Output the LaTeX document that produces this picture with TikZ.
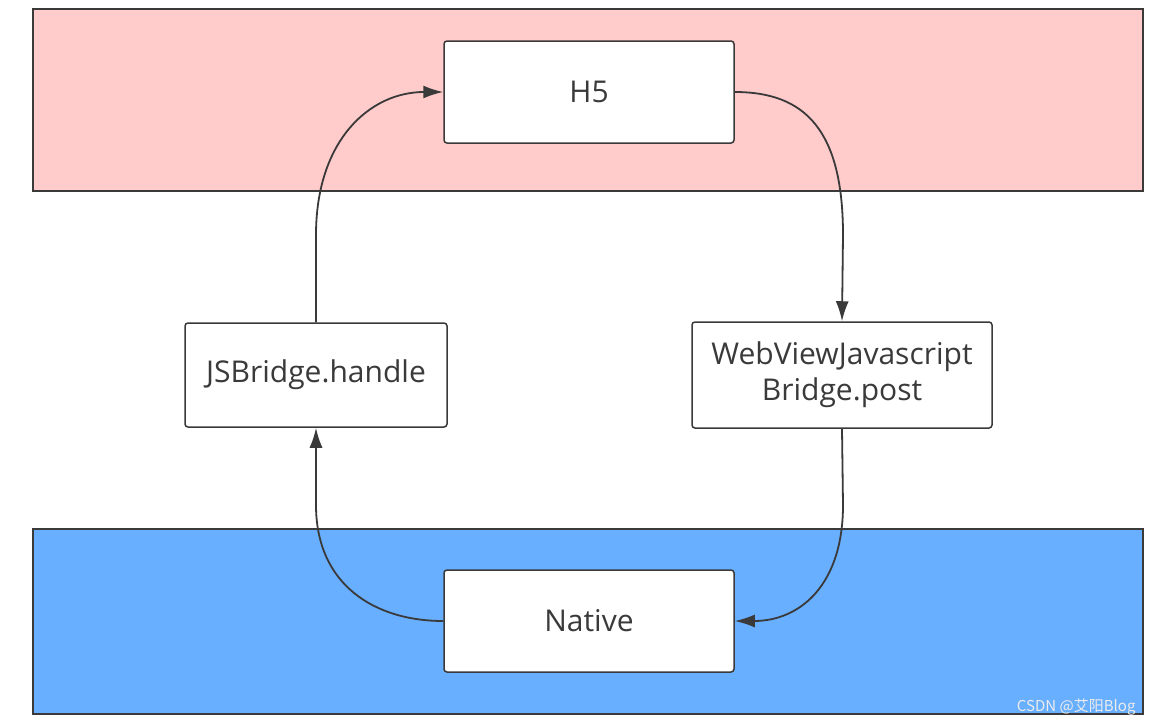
\documentclass[tikz,border=0pt]{standalone}
\usepackage{fontspec}
\setmainfont{Open Sans}
\newfontfamily\cjk{Noto Sans CJK SC}
\usetikzlibrary{arrows.meta}
\definecolor{pinkband}{HTML}{FFCBCB}
\definecolor{blueband}{HTML}{69AFFF}
\definecolor{edge}{HTML}{3A3A3A}
\tikzset{
  band/.style={draw=edge, line width=2pt},
  box/.style={draw=edge, fill=white, line width=1.5pt, rounded corners=3pt, inner sep=0pt, font=\fontsize{30}{36}\selectfont, text=edge, align=center},
  conn/.style={draw=edge, line width=1.8pt, -{Latex[length=20pt,width=13pt]}}
}
\begin{document}
\begin{tikzpicture}[x=1pt,y=-1pt]
\useasboundingbox (0,0) rectangle (1154,726);
\fill[white] (0,0) rectangle (1154,726);
\node[band, fill=pinkband, minimum width=1110pt, minimum height=182pt, inner sep=0pt] (top) at (588,100) {};
\node[band, fill=blueband, minimum width=1110pt, minimum height=185pt, inner sep=0pt] (bottom) at (588,621.5) {};
\node[box, minimum width=290pt, minimum height=102pt] (h5) at (589,92) {H5};
\node[box, minimum width=290pt, minimum height=102pt] (native) at (589,621) {Native};
\node[box, minimum width=262pt, minimum height=104pt] (jsb) at (316,375) {JSBridge.handle};
\node[box, minimum width=300pt, minimum height=106pt] (wv) at (842,375) {WebViewJavascript\\Bridge.post};
\coordinate (a1) at (843,235);
\coordinate (a2) at (843,505);
\coordinate (a3) at (316,505);
\coordinate (a4) at (316,235);
\draw[conn] (h5.east) .. controls (805,92) and (843,130) .. (a1) -- (wv.north);
\draw[conn] (wv.south) -- (a2) .. controls (843,585) and (800,621) .. (native.east);
\draw[conn] (native.west) .. controls (375,621) and (316,585) .. (a3) -- (jsb.south);
\draw[conn] (jsb.north) -- (a4) .. controls (316,140) and (370,92) .. (h5.west);
\node[font=\cjk\fontsize{15}{18}\selectfont, text=white!85!gray, anchor=east] (wm) at (1139,707) {CSDN @艾阳Blog};
\end{tikzpicture}
\end{document}
